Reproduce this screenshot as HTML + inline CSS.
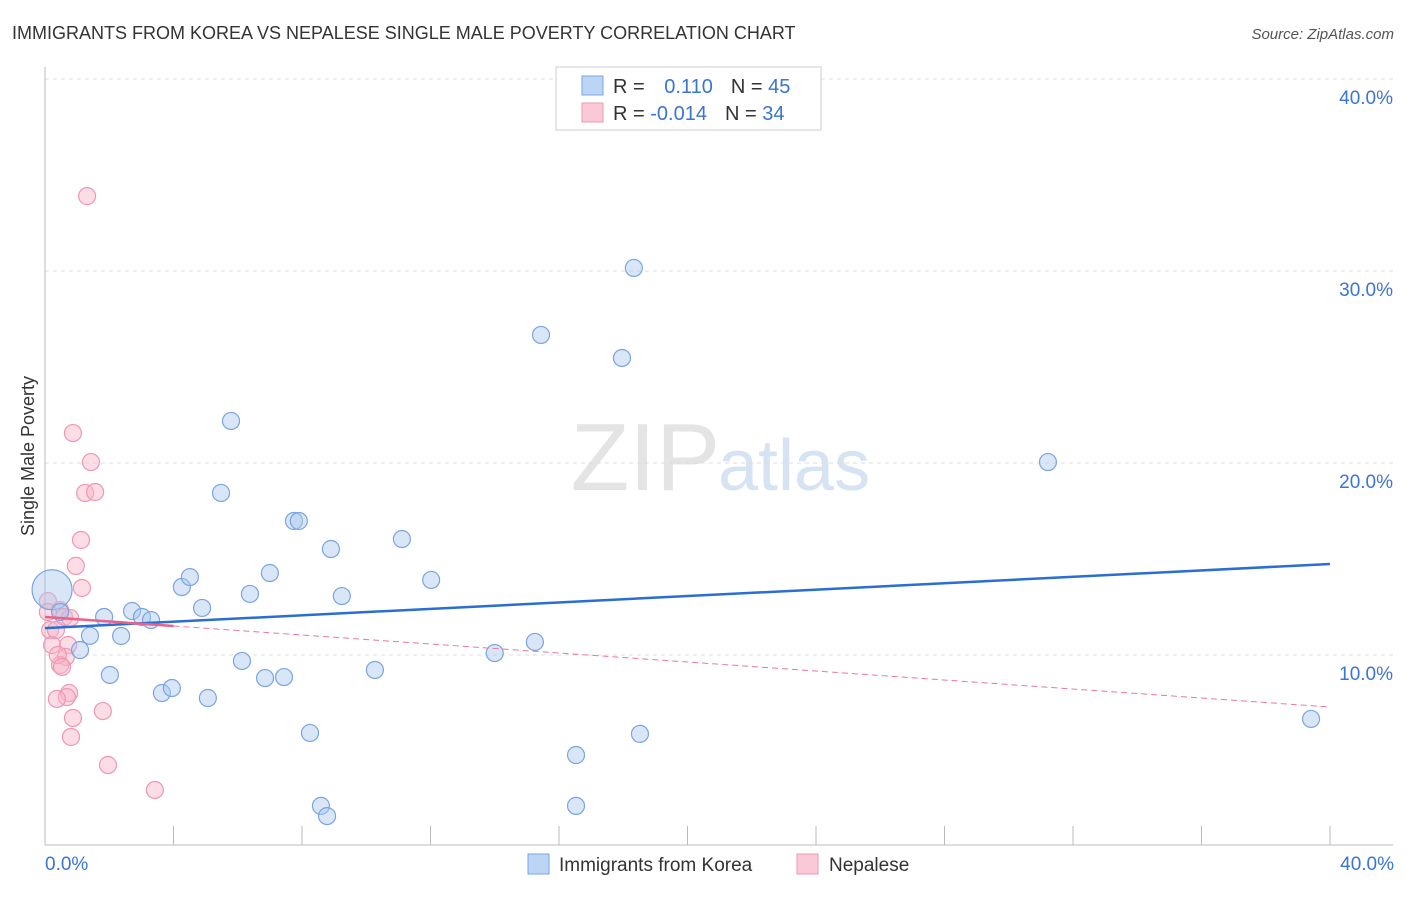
<!DOCTYPE html>
<html><head><meta charset="utf-8"><style>
body{margin:0;background:#fff;font-family:"Liberation Sans",sans-serif}
svg text{font-family:"Liberation Sans",sans-serif}
</style></head><body>
<svg width="1406" height="892" id="c">
<text x="12" y="39" font-size="18" fill="#333">IMMIGRANTS FROM KOREA VS NEPALESE SINGLE MALE POVERTY CORRELATION CHART</text>
<text x="1394" y="39" font-size="15" fill="#555" text-anchor="end" font-style="italic">Source: ZipAtlas.com</text>
<text x="720" y="490" font-size="96" fill="#e4e4e4" text-anchor="end" font-family="Liberation Serif">ZIP</text>
<text x="718" y="490" font-size="72" fill="#d6e3f3">atlas</text>
<text transform="translate(34,456) rotate(-90)" font-size="18" fill="#333" text-anchor="middle">Single Male Poverty</text>
<g id="grid"></g><g id="pts"></g><g id="lines"></g>
<rect x="556" y="67" width="265" height="63" fill="#fff" stroke="#ccc"/>
<rect x="582" y="76" width="21" height="19" fill="#bcd5f5" stroke="#7aa6e0"/>
<rect x="582" y="103" width="21" height="19" fill="#fac8d6" stroke="#ee9ab3"/>
<text x="613" y="93" font-size="20" fill="#333">R = <tspan fill="#3a75d0" dx="14">0.110</tspan><tspan dx="18" fill="#333">N = </tspan><tspan fill="#3a75d0">45</tspan></text>
<text x="613" y="120" font-size="20" fill="#333">R = <tspan fill="#3a75d0">-0.014</tspan><tspan dx="18" fill="#333">N = </tspan><tspan fill="#3a75d0">34</tspan></text>
<rect x="528" y="854" width="21" height="20" fill="#bcd5f5" stroke="#7aa6e0"/>
<text x="559" y="871" font-size="19" fill="#333">Immigrants from Korea</text>
<rect x="797" y="854" width="21" height="20" fill="#fac8d6" stroke="#ee9ab3"/>
<text x="829" y="871" font-size="19" fill="#333">Nepalese</text>
</svg>
<script>
const koreaX=[0.22,1.4,1.09,2.02,1.84,2.37,2.71,3.02,3.3,3.64,3.95,4.26,4.51,4.89,5.07,5.48,5.79,6.13,6.38,6.85,7.0,7.44,7.75,7.9,8.25,8.59,8.9,9.24,8.78,10.27,11.11,12.02,14.0,15.25,15.44,16.53,16.53,17.96,18.33,18.52,31.22,39.41,0.47];
const koreaY=[13.4,11.0,10.26,8.96,11.98,10.99,12.29,11.98,11.82,8.02,8.28,13.54,14.06,12.45,7.76,18.44,22.19,9.69,13.18,8.8,14.27,8.85,16.98,16.98,5.94,2.14,15.52,13.07,1.61,9.22,16.04,13.91,10.1,10.68,26.67,4.79,2.14,25.47,30.16,5.89,20.05,6.67,12.24];
const nepX=[1.31,0.87,1.43,1.25,1.56,1.12,0.96,1.15,0.09,0.47,0.59,0.78,0.16,0.22,0.72,0.65,0.47,0.4,0.53,0.75,0.68,0.37,0.87,1.8,0.81,1.96,3.42,0.09,0.34];
const nepY=[33.9,21.56,20.05,18.44,18.49,15.99,14.64,13.49,12.81,12.34,11.98,11.93,11.3,10.52,10.52,9.9,9.48,10.0,9.38,8.02,7.81,7.71,6.72,7.08,5.73,4.27,2.97,12.24,11.3];
const yTicks=[10,20,30,40];
const xTickLabels=["0.0%","40.0%"];
const koreaTrend=[11.4,14.74];
const nepTrend=[11.98,7.29];
const NS="http://www.w3.org/2000/svg";
const sx=v=>45+v/40*1285, sy=v=>847-v*19.2;
function mk(t,a,p){const e=document.createElementNS(NS,t);for(const k in a)e.setAttribute(k,a[k]);p.appendChild(e);return e;}
const g=document.getElementById('grid'),c=document.getElementById('c');
yTicks.forEach(v=>{
 const l=mk('line',{x1:45,x2:1393,y1:sy(v),y2:sy(v),stroke:'#ddd','stroke-dasharray':'4,4'},g);
 
 
 const t=mk('text',{x:1393,y:sy(v)+25,'font-size':19,fill:'#3a75d0','text-anchor':'end'},g);t.textContent=v.toFixed(1)+'%';
 
 
});
const ax=mk('line',{x1:45,x2:45,y1:67,y2:845,stroke:'#bbb'},g);


const bx=mk('line',{x1:45,x2:1393,y1:845,y2:845,stroke:'#bbb'},g);


for(let i=1;i<=10;i++){const l=mk('line',{x1:sx(i*4),x2:sx(i*4),y1:826,y2:845,stroke:'#bbb'},g);
 
 }
xTickLabels.forEach((s,i)=>{const t=mk('text',{x:i?1394:45,y:870,'font-size':19,fill:'#3a75d0','text-anchor':i?'end':'start'},g);t.textContent=s;
 
 });
const p=document.getElementById('pts');
nepX.forEach((x,i)=>{const e=mk('circle',{cx:sx(x),cy:sy(nepY[i]),r:8.5,fill:'rgba(248,180,200,0.45)',stroke:'#ef97b2','stroke-width':1.2},p);
 
 });
koreaX.forEach((x,i)=>{const e=mk('circle',{cx:sx(x),cy:sy(koreaY[i]),r:i==0?20:8.5,fill:'rgba(170,200,240,0.45)',stroke:'#79a5e0','stroke-width':1.2},p);
 
 });
const L=document.getElementById('lines');
const kl=mk('line',{x1:sx(0),x2:sx(40),y1:sy(koreaTrend[0]),y2:sy(koreaTrend[1]),stroke:'#2a6dd4','stroke-width':2.5},L);


const f=4/40, ny=nepTrend[0]+(nepTrend[1]-nepTrend[0])*f;
const ns=mk('line',{x1:sx(0),x2:sx(4),y1:sy(nepTrend[0]),y2:sy(ny),stroke:'#e8628a','stroke-width':2.5},L);


const nd=mk('line',{x1:sx(4),x2:sx(40),y1:sy(ny),y2:sy(nepTrend[1]),stroke:'#e8799b','stroke-width':1,'stroke-dasharray':'6,4'},L);


</script>
</body></html>
